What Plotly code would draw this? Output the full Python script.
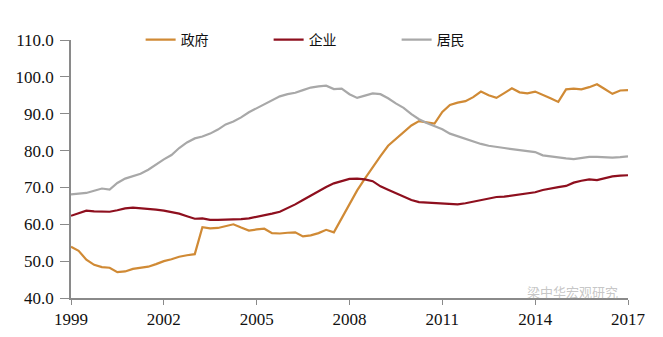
import plotly.graph_objects as go

quarters = [f"{y}-{m:02d}-01" for y in range(1999, 2018) for m in (1, 4, 7, 10)][:73]

government = [53.9, 52.8, 50.4, 49.0, 48.4, 48.2, 47.0, 47.2, 47.9, 48.2, 48.5, 49.2,
              50.0, 50.5, 51.2, 51.6, 51.9, 59.2, 58.9, 59.0, 59.6, 60.0, 59.1, 58.3,
              58.6, 58.8, 57.6, 57.5, 57.7, 57.8, 56.7, 57.0, 57.6, 58.5, 57.8, 61.5,
              65.5, 69.2, 72.4, 75.6, 78.5, 81.3, 83.2, 85.0, 86.8, 88.0, 87.6, 87.3,
              90.5, 92.4, 93.0, 93.4, 94.5, 96.0, 95.0, 94.3, 95.6, 96.9, 95.8, 95.5,
              96.0, 95.2, 94.2, 93.2, 96.6, 96.8, 96.6, 97.2, 98.0, 96.7, 95.4, 96.3, 96.4]

enterprise = [62.3, 63.0, 63.7, 63.5, 63.4, 63.4, 63.8, 64.3, 64.5, 64.4, 64.2, 64.0,
              63.7, 63.3, 62.9, 62.2, 61.5, 61.6, 61.2, 61.2, 61.2, 61.2, 61.4, 61.6,
              62.0, 62.5, 62.9, 63.4, 64.4, 65.4, 66.6, 67.8, 69.0, 70.1, 71.1, 71.8,
              72.3, 72.4, 72.2, 71.7, 70.3, 69.4, 68.4, 67.6, 66.6, 66.0, 65.9, 65.9,
              65.7, 65.5, 65.4, 65.7, 66.1, 66.6, 67.0, 67.4, 67.5, 67.8, 68.0, 68.3,
              68.7, 69.3, 69.8, 70.1, 70.4, 71.3, 71.8, 72.2, 72.0, 72.5, 73.0, 73.2, 73.3]

household = [68.1, 68.3, 68.5, 69.1, 69.7, 69.4, 71.2, 72.4, 73.1, 73.7, 74.8, 76.3,
             77.6, 78.8, 80.7, 82.2, 83.3, 83.8, 84.6, 85.7, 87.1, 87.9, 89.0, 90.4,
             91.5, 92.6, 93.8, 94.7, 95.3, 95.7, 96.4, 97.1, 97.4, 97.6, 96.7, 96.8,
             95.3, 94.3, 94.9, 95.5, 95.3, 94.2, 92.8, 91.6, 89.9, 88.5, 87.5, 86.6,
             85.8, 84.6, 83.9, 83.0, 82.5, 81.8, 81.3, 81.1, 80.7, 80.4, 80.2, 79.9,
             79.6, 78.7, 78.4, 78.2, 77.9, 77.7, 78.0, 78.3, 78.3, 78.1, 78.1, 78.2, 78.4]

series_names = ["政府", "企业", "居民"]
series_colors = ["#D08A35", "#8E0F1E", "#A8A8A8"]
x_ticks = ["1999-01-01", "2002-01-01", "2005-01-01", "2008-01-01",
           "2011-01-01", "2014-01-01", "2017-01-01"]
x_tick_labels = ["1999", "2002", "2005", "2008", "2011", "2014", "2017"]
y_ticks = [40, 50, 60, 70, 80, 90, 100, 110]

fig = go.Figure()
for name, vals, col in zip(series_names, [government, enterprise, household], series_colors):
    fig.add_trace(go.Scatter(x=quarters, y=vals, mode="lines", name=name,
                             line=dict(color=col, width=2.2)))

serif = "Liberation Serif, Times New Roman, serif"
fig.update_layout(
    width=663, height=337,
    margin=dict(l=71, r=35, t=40, b=39, autoexpand=False),
    paper_bgcolor="white", plot_bgcolor="white",
    font=dict(family=serif, size=17, color="#111111"),
    legend=dict(orientation="h", x=0.125, y=1.0, xanchor="left", yanchor="middle",
                entrywidth=83, font=dict(family="Noto Sans CJK SC", size=14, color="#111"),
                bgcolor="rgba(0,0,0,0)"),
    xaxis=dict(range=["1999-01-01", "2017-01-01"], tickvals=x_ticks, ticktext=x_tick_labels,
               showgrid=False, zeroline=False, showline=True, linecolor="#8a8a8a", linewidth=1.5,
               ticks="outside", ticklen=5, tickcolor="#8a8a8a", automargin=False),
    yaxis=dict(range=[40, 110], tickvals=y_ticks, tickformat=".1f",
               showgrid=False, zeroline=False, showline=True, linecolor="#8a8a8a", linewidth=1.5,
               ticks="outside", ticklen=9, tickcolor="#8a8a8a", ticklabelstandoff=3,
               automargin=False),
)
fig.add_annotation(x=0.985, y=0.025, xref="paper", yref="paper", xanchor="right", yanchor="middle",
                   text="梁中华宏观研究", showarrow=False,
                   font=dict(family="Noto Sans CJK SC", size=13, color="rgba(150,150,150,0.55)"))

fig.write_html("out.html")
